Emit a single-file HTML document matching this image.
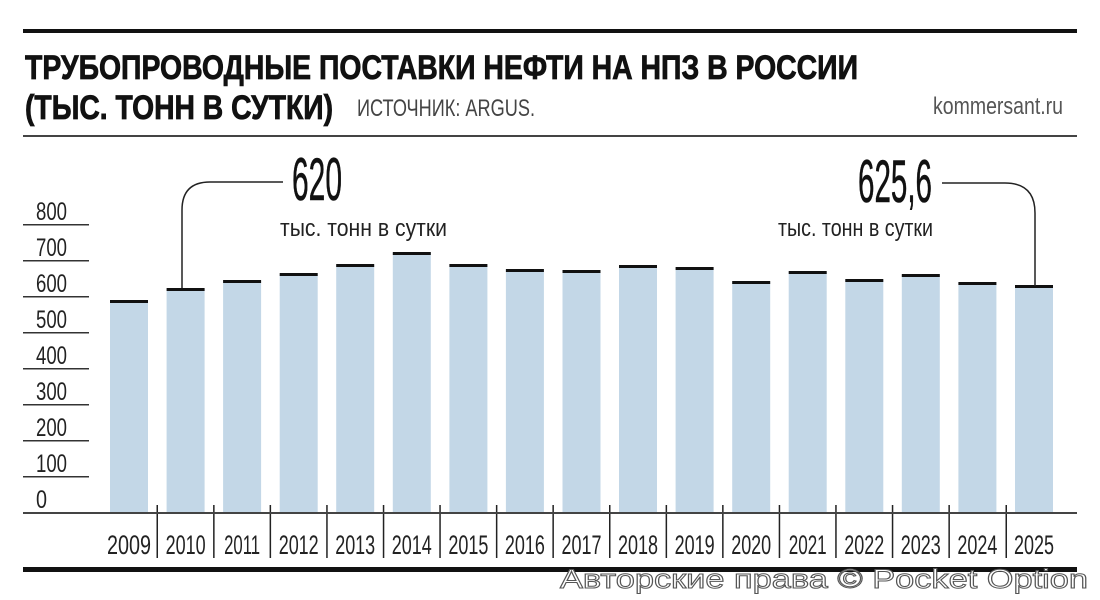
<!DOCTYPE html>
<html><head><meta charset="utf-8"><style>
html,body{margin:0;padding:0;background:#fff;}
svg{display:block;font-family:"Liberation Sans",sans-serif;}
</style></head><body>
<svg width="1100" height="600" viewBox="0 0 1100 600" xmlns="http://www.w3.org/2000/svg">
<rect width="1100" height="600" fill="#fff"/>
<rect x="23" y="29" width="1054" height="4" fill="#111"/>
<text x="25" y="79" font-size="34" font-weight="bold" fill="#111" stroke="#111" stroke-width="0.8" textLength="833" lengthAdjust="spacingAndGlyphs">ТРУБОПРОВОДНЫЕ ПОСТАВКИ НЕФТИ НА НПЗ В РОССИИ</text>
<text x="25" y="119" font-size="34" font-weight="bold" fill="#111" stroke="#111" stroke-width="0.8" textLength="308" lengthAdjust="spacingAndGlyphs">(ТЫС. ТОНН В СУТКИ)</text>
<text x="357" y="116" font-size="24" fill="#444" textLength="178" lengthAdjust="spacingAndGlyphs">ИСТОЧНИК: ARGUS.</text>
<text x="933" y="114" font-size="24" fill="#555" textLength="130" lengthAdjust="spacingAndGlyphs">kommersant.ru</text>
<rect x="23" y="135" width="1054" height="2" fill="#444"/>
<g fill="#222" font-size="25">
<text x="36" y="220" textLength="31" lengthAdjust="spacingAndGlyphs">800</text>
<text x="36" y="256" textLength="31" lengthAdjust="spacingAndGlyphs">700</text>
<text x="36" y="292" textLength="31" lengthAdjust="spacingAndGlyphs">600</text>
<text x="36" y="328" textLength="31" lengthAdjust="spacingAndGlyphs">500</text>
<text x="36" y="364" textLength="31" lengthAdjust="spacingAndGlyphs">400</text>
<text x="36" y="400" textLength="31" lengthAdjust="spacingAndGlyphs">300</text>
<text x="36" y="436" textLength="31" lengthAdjust="spacingAndGlyphs">200</text>
<text x="36" y="472" textLength="31" lengthAdjust="spacingAndGlyphs">100</text>
<text x="36" y="508" textLength="11" lengthAdjust="spacingAndGlyphs">0</text>
</g>
<g fill="#333">
<rect x="23" y="224" width="66" height="1.5"/><rect x="23" y="260" width="66" height="1.5"/>
<rect x="23" y="296" width="66" height="1.5"/><rect x="23" y="332" width="66" height="1.5"/>
<rect x="23" y="368" width="66" height="1.5"/><rect x="23" y="404" width="66" height="1.5"/>
<rect x="23" y="440" width="66" height="1.5"/><rect x="23" y="476" width="66" height="1.5"/>
</g>
<g fill="#c3d7e7">
<rect x="110" y="301" width="38" height="211"/>
<rect x="166.6" y="289" width="38" height="223"/>
<rect x="223.1" y="281" width="38" height="231"/>
<rect x="279.7" y="274" width="38" height="238"/>
<rect x="336.2" y="265" width="38" height="247"/>
<rect x="392.8" y="253" width="38" height="259"/>
<rect x="449.4" y="265" width="38" height="247"/>
<rect x="505.9" y="270" width="38" height="242"/>
<rect x="562.5" y="271" width="38" height="241"/>
<rect x="619" y="266" width="38" height="246"/>
<rect x="675.6" y="268" width="38" height="244"/>
<rect x="732.2" y="282" width="38" height="230"/>
<rect x="788.7" y="272" width="38" height="240"/>
<rect x="845.3" y="280" width="38" height="232"/>
<rect x="901.8" y="275" width="38" height="237"/>
<rect x="958.4" y="283" width="38" height="229"/>
<rect x="1015" y="286" width="38" height="226"/>
</g>
<g fill="#111">
<rect x="110" y="300" width="38" height="3"/>
<rect x="166.6" y="288" width="38" height="3"/>
<rect x="223.1" y="280" width="38" height="3"/>
<rect x="279.7" y="273" width="38" height="3"/>
<rect x="336.2" y="264" width="38" height="3"/>
<rect x="392.8" y="252" width="38" height="3"/>
<rect x="449.4" y="264" width="38" height="3"/>
<rect x="505.9" y="269" width="38" height="3"/>
<rect x="562.5" y="270" width="38" height="3"/>
<rect x="619" y="265" width="38" height="3"/>
<rect x="675.6" y="267" width="38" height="3"/>
<rect x="732.2" y="281" width="38" height="3"/>
<rect x="788.7" y="271" width="38" height="3"/>
<rect x="845.3" y="279" width="38" height="3"/>
<rect x="901.8" y="274" width="38" height="3"/>
<rect x="958.4" y="282" width="38" height="3"/>
<rect x="1015" y="285" width="38" height="3"/>
</g>
<g fill="#222">
<rect x="156.5" y="505" width="1.5" height="53"/>
<rect x="213.1" y="505" width="1.5" height="53"/>
<rect x="269.6" y="505" width="1.5" height="53"/>
<rect x="326.2" y="505" width="1.5" height="53"/>
<rect x="382.8" y="505" width="1.5" height="53"/>
<rect x="439.3" y="505" width="1.5" height="53"/>
<rect x="495.9" y="505" width="1.5" height="53"/>
<rect x="552.4" y="505" width="1.5" height="53"/>
<rect x="609" y="505" width="1.5" height="53"/>
<rect x="665.6" y="505" width="1.5" height="53"/>
<rect x="722.1" y="505" width="1.5" height="53"/>
<rect x="778.7" y="505" width="1.5" height="53"/>
<rect x="835.2" y="505" width="1.5" height="53"/>
<rect x="891.8" y="505" width="1.5" height="53"/>
<rect x="948.4" y="505" width="1.5" height="53"/>
<rect x="1005.5" y="505" width="1.5" height="53"/>
</g>
<g fill="#222" font-size="27" text-anchor="middle">
<text x="129" y="554" textLength="44" lengthAdjust="spacingAndGlyphs">2009</text>
<text x="185.6" y="554" textLength="40" lengthAdjust="spacingAndGlyphs">2010</text>
<text x="242.1" y="554" textLength="36" lengthAdjust="spacingAndGlyphs">2011</text>
<text x="298.7" y="554" textLength="40" lengthAdjust="spacingAndGlyphs">2012</text>
<text x="355.2" y="554" textLength="40" lengthAdjust="spacingAndGlyphs">2013</text>
<text x="411.8" y="554" textLength="40" lengthAdjust="spacingAndGlyphs">2014</text>
<text x="468.4" y="554" textLength="40" lengthAdjust="spacingAndGlyphs">2015</text>
<text x="524.9" y="554" textLength="40" lengthAdjust="spacingAndGlyphs">2016</text>
<text x="581.5" y="554" textLength="40" lengthAdjust="spacingAndGlyphs">2017</text>
<text x="638" y="554" textLength="40" lengthAdjust="spacingAndGlyphs">2018</text>
<text x="694.6" y="554" textLength="40" lengthAdjust="spacingAndGlyphs">2019</text>
<text x="751.2" y="554" textLength="40" lengthAdjust="spacingAndGlyphs">2020</text>
<text x="807.7" y="554" textLength="38" lengthAdjust="spacingAndGlyphs">2021</text>
<text x="864.3" y="554" textLength="40" lengthAdjust="spacingAndGlyphs">2022</text>
<text x="920.8" y="554" textLength="40" lengthAdjust="spacingAndGlyphs">2023</text>
<text x="977.4" y="554" textLength="40" lengthAdjust="spacingAndGlyphs">2024</text>
<text x="1034" y="554" textLength="40" lengthAdjust="spacingAndGlyphs">2025</text>
</g>
<rect x="23" y="512" width="1054" height="2" fill="#444"/>
<rect x="23" y="567" width="1054" height="5" fill="#111"/>
<text x="292" y="200" font-size="60" fill="#111" stroke="#111" stroke-width="0.6" textLength="50" lengthAdjust="spacingAndGlyphs">620</text>
<text x="280" y="236" font-size="24" fill="#222" textLength="167" lengthAdjust="spacingAndGlyphs">тыс. тонн в сутки</text>
<path d="M182 288 V210 Q182 182 210 182 H283" fill="none" stroke="#222" stroke-width="1.5"/>
<text x="858" y="202" font-size="60" fill="#111" stroke="#111" stroke-width="0.6" textLength="74" lengthAdjust="spacingAndGlyphs">625,6</text>
<text x="778" y="236" font-size="24" fill="#222" textLength="155" lengthAdjust="spacingAndGlyphs">тыс. тонн в сутки</text>
<path d="M942 183 H1005 Q1035 183 1035 213 V286" fill="none" stroke="#222" stroke-width="1.5"/>
<text x="560" y="588" font-size="27" fill="#fff" stroke="#555" stroke-width="1" textLength="528" lengthAdjust="spacingAndGlyphs">Авторские права © Pocket Option</text>
</svg>
</body></html>
